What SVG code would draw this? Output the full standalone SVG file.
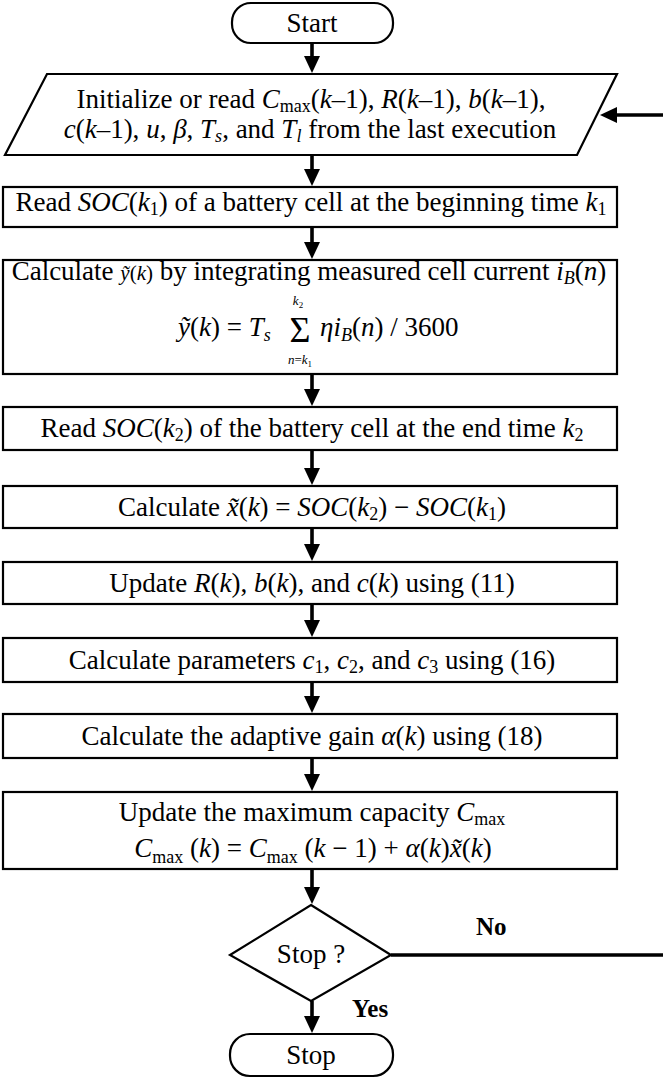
<svg xmlns="http://www.w3.org/2000/svg" width="663" height="1078" viewBox="0 0 663 1078">
<style>
.bx{fill:#fff;stroke:#000;stroke-width:2.2}
.c{fill:none;stroke:#000;stroke-width:3.6}
text{font-family:"Liberation Serif","Times New Roman",serif;font-size:27px;fill:#000}
.m{text-anchor:middle}
.i{font-style:italic}
.s{font-size:18px}
.lb{font-weight:bold;font-size:25px}
.sig{font-size:36px}
.lim{font-size:13px}
.lims{font-size:9px;font-style:normal}
</style>
<defs>
<marker id="ah" markerUnits="userSpaceOnUse" markerWidth="20" markerHeight="18" refX="1" refY="8" orient="auto">
<path d="M0,0 L17,8 L0,16 z" fill="#000"/>
</marker>
</defs>
<rect width="663" height="1078" fill="#fff"/>
<g id="connectors">
<line class="c" x1="312" y1="43" x2="312" y2="57" marker-end="url(#ah)"/>
<line class="c" x1="312" y1="155" x2="312" y2="170" marker-end="url(#ah)"/>
<line class="c" x1="312" y1="227" x2="312" y2="243" marker-end="url(#ah)"/>
<line class="c" x1="312" y1="374" x2="312" y2="390" marker-end="url(#ah)"/>
<line class="c" x1="312" y1="450" x2="312" y2="469" marker-end="url(#ah)"/>
<line class="c" x1="312" y1="528" x2="312" y2="545" marker-end="url(#ah)"/>
<line class="c" x1="312" y1="604" x2="312" y2="621" marker-end="url(#ah)"/>
<line class="c" x1="312" y1="682" x2="312" y2="697" marker-end="url(#ah)"/>
<line class="c" x1="312" y1="758" x2="312" y2="775" marker-end="url(#ah)"/>
<line class="c" x1="312" y1="869" x2="312" y2="888" marker-end="url(#ah)"/>
<line class="c" x1="312" y1="1001" x2="312" y2="1017" marker-end="url(#ah)"/>
<line class="c" x1="391" y1="955" x2="663" y2="955"/>
<line class="c" x1="663" y1="115" x2="616" y2="115" marker-end="url(#ah)"/>
<text class="lb" x="476" y="935">No</text>
<text class="lb" x="352" y="1017">Yes</text>
</g>
<g id="start">
<rect class="bx" x="232" y="3" width="161" height="40" rx="19"/>
<text class="m" x="312" y="32">Start</text>
</g>
<g id="init">
<polygon class="bx" points="47,74 617,74 577,155 5,155"/>
<text class="m" x="311" y="108">Initialize or read <tspan class="i">C</tspan><tspan class="s" dy="4">max</tspan><tspan dy="-4">(</tspan><tspan class="i">k</tspan>–1), <tspan class="i">R</tspan>(<tspan class="i">k</tspan>–1), <tspan class="i">b</tspan>(<tspan class="i">k</tspan>–1),</text>
<text class="m" x="310" y="138"><tspan class="i">c</tspan>(<tspan class="i">k</tspan>–1), <tspan class="i">u</tspan>, <tspan class="i">β</tspan>, <tspan class="i">T</tspan><tspan class="s i" dy="4">s</tspan><tspan dy="-4">, and </tspan><tspan class="i">T</tspan><tspan class="s i" dy="4">l</tspan><tspan dy="-4">  from the last execution</tspan></text>
</g>
<g id="read1">
<rect class="bx" x="3" y="187" width="614" height="40"/>
<text class="m" x="311" y="211">Read <tspan class="i">SOC</tspan>(<tspan class="i">k</tspan><tspan class="s" dy="4">1</tspan><tspan dy="-4">) of a battery cell at the beginning time </tspan><tspan class="i">k</tspan><tspan class="s" dy="4">1</tspan></text>
</g>
<g id="calcy">
<rect class="bx" x="3" y="260" width="614" height="114"/>
<text class="m" x="309" y="280">Calculate <tspan class="i" font-size="21">ỹ</tspan><tspan font-size="21">(</tspan><tspan class="i" font-size="21">k</tspan><tspan font-size="21">)</tspan> by integrating measured cell current <tspan class="i">i</tspan><tspan class="s i" dy="4">B</tspan><tspan dy="-4">(</tspan><tspan class="i">n</tspan>)</text>
<text x="178" y="336"><tspan class="i">ỹ</tspan>(<tspan class="i">k</tspan>) = <tspan class="i">T</tspan><tspan class="s i" dy="5">s</tspan></text>
<text class="m sig" x="300" y="342">Σ</text>
<text class="m i lim" x="298" y="305">k<tspan class="lims" dy="3">2</tspan></text>
<text class="m i lim" x="300" y="364">n<tspan font-style="normal">=</tspan>k<tspan class="lims" dy="3">1</tspan></text>
<text x="320" y="336"><tspan class="i">ηi</tspan><tspan class="s i" dy="5">B</tspan><tspan dy="-5">(</tspan><tspan class="i">n</tspan>) / 3600</text>
</g>
<g id="read2">
<rect class="bx" x="3" y="407" width="614" height="43"/>
<text class="m" x="312" y="437">Read <tspan class="i">SOC</tspan>(<tspan class="i">k</tspan><tspan class="s" dy="4">2</tspan><tspan dy="-4">) of the battery cell at the end time </tspan><tspan class="i">k</tspan><tspan class="s" dy="4">2</tspan></text>
</g>
<g id="calcx">
<rect class="bx" x="3" y="486" width="614" height="42"/>
<text class="m" x="312" y="516">Calculate <tspan class="i">x̃</tspan>(<tspan class="i">k</tspan>) = <tspan class="i">SOC</tspan>(<tspan class="i">k</tspan><tspan class="s" dy="4">2</tspan><tspan dy="-4">) − </tspan><tspan class="i">SOC</tspan>(<tspan class="i">k</tspan><tspan class="s" dy="4">1</tspan><tspan dy="-4">)</tspan></text>
</g>
<g id="updr">
<rect class="bx" x="3" y="562" width="614" height="42"/>
<text class="m" x="312" y="592">Update <tspan class="i">R</tspan>(<tspan class="i">k</tspan>), <tspan class="i">b</tspan>(<tspan class="i">k</tspan>), and <tspan class="i">c</tspan>(<tspan class="i">k</tspan>) using (11)</text>
</g>
<g id="params">
<rect class="bx" x="3" y="638" width="614" height="44"/>
<text class="m" x="312" y="669">Calculate parameters <tspan class="i">c</tspan><tspan class="s" dy="4">1</tspan><tspan dy="-4">, </tspan><tspan class="i">c</tspan><tspan class="s" dy="4">2</tspan><tspan dy="-4">, and </tspan><tspan class="i">c</tspan><tspan class="s" dy="4">3</tspan><tspan dy="-4"> using (16)</tspan></text>
</g>
<g id="gain">
<rect class="bx" x="3" y="714" width="614" height="44"/>
<text class="m" x="312" y="745">Calculate the adaptive gain <tspan class="i">α</tspan>(<tspan class="i">k</tspan>) using (18)</text>
</g>
<g id="updc">
<rect class="bx" x="3" y="792" width="614" height="77"/>
<text class="m" x="312" y="821">Update the maximum capacity <tspan class="i">C</tspan><tspan class="s" dy="4">max</tspan></text>
<text class="m" x="313" y="857"><tspan class="i">C</tspan><tspan class="s" dy="6">max</tspan><tspan dy="-6"> (</tspan><tspan class="i">k</tspan>) = <tspan class="i">C</tspan><tspan class="s" dy="6">max</tspan><tspan dy="-6"> (</tspan><tspan class="i">k</tspan> − 1) + <tspan class="i">α</tspan>(<tspan class="i">k</tspan>)<tspan class="i">x̃</tspan>(<tspan class="i">k</tspan>)</text>
</g>
<g id="decide">
<polygon class="bx" points="311,905 391,955 311,1001 230,955"/>
<text class="m" x="311" y="963">Stop ?</text>
</g>
<g id="stop">
<rect class="bx" x="230" y="1034" width="163" height="42" rx="20"/>
<text class="m" x="311" y="1064">Stop</text>
</g>
</svg>
